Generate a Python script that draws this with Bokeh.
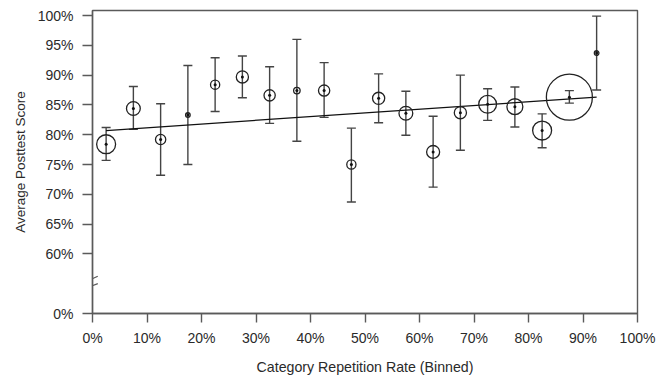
from bokeh.plotting import figure
from bokeh.models import (ColumnDataSource, FixedTicker, PrintfTickFormatter,
                          Whisker, TeeHead, Arrow)
from bokeh.embed import file_html
from bokeh.resources import INLINE
import math

# ---- data ----
bin_centers = [2.5, 7.5, 12.5, 17.5, 22.5, 27.5, 32.5, 37.5, 42.5, 47.5,
               52.5, 57.5, 62.5, 67.5, 72.5, 77.5, 82.5, 87.5, 92.5]
mean_scores = [78.4, 84.4, 79.2, 83.3, 88.4, 89.7, 86.6, 87.4, 87.4, 75.0,
               86.1, 83.6, 77.1, 83.7, 85.1, 84.7, 80.7, 86.3, 93.7]
lower_ci = [75.7, 80.9, 73.2, 75.0, 83.9, 86.2, 81.9, 78.9, 82.9, 68.7,
            82.0, 79.9, 71.2, 77.4, 82.4, 81.3, 77.8, 85.3, 87.5]
upper_ci = [81.2, 88.1, 85.2, 91.6, 92.9, 93.2, 91.4, 96.0, 92.1, 81.1,
            90.2, 87.3, 83.1, 90.0, 87.7, 88.0, 83.5, 87.4, 99.9]
bin_counts = [17, 9, 5, 1, 4, 7, 6, 2, 6, 4, 7, 9, 8, 7, 15, 12, 17, 100, 1]
fit_x = [2.5, 92.5]
fit_y = [80.7, 86.3]
x_ticks = [0, 10, 20, 30, 40, 50, 60, 70, 80, 90, 100]
y_ticks = [50, 60, 65, 70, 75, 80, 85, 90, 95, 100]
y_break_tick = 50          # axis position that stands for 0% (broken axis)
y_break_label = "0%"

FONT = "Liberation Sans"
AX = "#5a5a5a"
TXT = "#2a2a2a"

sizes = [2 * 2.3 * math.sqrt(n) for n in bin_counts]
src = ColumnDataSource(dict(x=bin_centers, y=mean_scores, lo=lower_ci,
                            hi=upper_ci, size=sizes))

p = figure(width=666, height=377, output_backend="svg", toolbar_location=None,
           x_range=(0, 100), y_range=(50, 100.84),
           min_border_left=92, min_border_right=29, min_border_top=10,
           min_border_bottom=64)
p.grid.visible = False
p.background_fill_color = "white"
p.border_fill_color = "white"
p.outline_line_color = AX
p.outline_line_width = 1.4

# axes
p.xaxis.ticker = FixedTicker(ticks=x_ticks)
p.xaxis.formatter = PrintfTickFormatter(format="%d%%")
p.yaxis.ticker = FixedTicker(ticks=y_ticks)
p.yaxis.formatter = PrintfTickFormatter(format="%d%%")
p.yaxis.major_label_overrides = {y_break_tick: y_break_label}
for ax in (p.xaxis[0], p.yaxis[0]):
    ax.axis_line_color = AX
    ax.axis_line_width = 1.4
    ax.major_tick_line_color = AX
    ax.major_tick_line_width = 1.4
    ax.minor_tick_line_color = None
    ax.major_tick_in = 0
    ax.major_label_text_font = FONT
    ax.major_label_text_font_size = "14px"
    ax.major_label_text_color = TXT
    ax.axis_label_text_font = FONT
    ax.axis_label_text_font_style = "normal"
    ax.axis_label_text_color = TXT
p.xaxis.axis_label_text_font_size = "14.2px"
p.yaxis.axis_label_text_font_size = "13.5px"
p.xaxis.major_tick_out = 9
p.yaxis.major_tick_out = 10
p.xaxis.major_label_standoff = 7
p.yaxis.major_label_standoff = 9
p.xaxis.axis_label = "Category Repetition Rate (Binned)"
p.yaxis.axis_label = "Average Posttest Score"
p.xaxis.axis_label_standoff = 10
p.yaxis.axis_label_standoff = 7

# error bars
wh = Whisker(source=src, base="x", lower="lo", upper="hi", dimension="height",
             line_color="#444444", line_width=1.4,
             upper_head=TeeHead(size=9, line_color="#444444", line_width=1.4),
             lower_head=TeeHead(size=9, line_color="#444444", line_width=1.4))
p.add_layout(wh)

# regression line
p.line(fit_x, fit_y, line_color="#111111", line_width=1.2)

# bubbles and centre dots
p.scatter("x", "y", source=src, size="size", marker="circle",
          fill_color=None, line_color="#222222", line_width=1.3)
p.scatter("x", "y", source=src, size=3, marker="circle",
          fill_color="#111111", line_color=None)

# axis break marks
for y0, y1 in [(55.41, 56.25), (54.29, 55.01)]:
    p.add_layout(Arrow(x_start=-1.05, y_start=y0, x_end=0.97, y_end=y1,
                       end=None, start=None, line_color=AX, line_width=1.3))

open("out.html", "w").write(file_html(p, INLINE))
